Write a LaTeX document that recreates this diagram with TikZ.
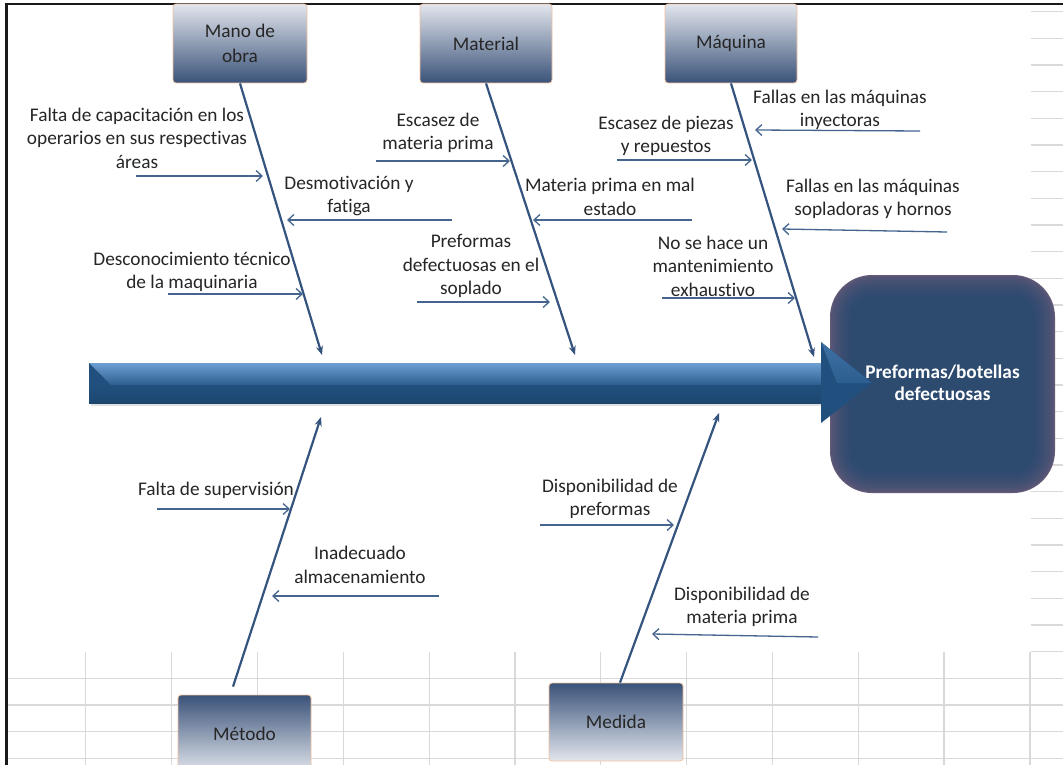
\documentclass[tikz,border=0pt]{standalone}
\usepackage{fontspec}
\setmainfont{Carlito}[Ligatures=NoCommon]
\usetikzlibrary{arrows.meta}
\definecolor{gridc}{HTML}{D9D9D9}
\definecolor{spinec}{HTML}{34547F}
\definecolor{causec}{HTML}{45658F}
\definecolor{txtc}{HTML}{262626}
\definecolor{boxlight}{HTML}{E2E6ED}
\definecolor{boxmid}{HTML}{A3AFC1}
\definecolor{boxdark}{HTML}{3A5279}
\definecolor{boxedge}{HTML}{F6C3A0}
\definecolor{effnavy}{HTML}{2D4A6F}
\definecolor{effglow}{HTML}{665A78}
\definecolor{arrtop}{HTML}{6E9FD3}
\definecolor{arrmid}{HTML}{2C5E90}
\definecolor{arrlow}{HTML}{21507E}
\definecolor{arrbot}{HTML}{1C466F}
\definecolor{headlit}{HTML}{3F71A4}

\begin{document}
\begin{tikzpicture}[x=1pt,y=-1pt,
  gridline/.style={draw=gridc, line width=1.3pt},
  txt/.style={font=\fontsize{19.3}{23.5}\selectfont, text=txtc, align=center, inner sep=0pt},
  efftxt/.style={font=\fontsize{19.3}{22}\selectfont\bfseries, text=white, align=center, inner sep=0pt},
  catbox/.style={draw=boxedge, line width=0.8pt, rounded corners=3pt, align=center,
    font=\fontsize{19.3}{25}\selectfont, text=txtc, inner sep=0pt},
  topcat/.style={catbox, top color=boxlight, middle color=boxmid, bottom color=boxdark},
  botcat/.style={catbox, top color=boxdark, middle color=boxmid, bottom color=boxlight},
  spine/.style={draw=spinec, line width=2.2pt, -{Stealth[length=9pt,width=7pt]}},
  causearr/.style={draw=causec, line width=1.3pt, -{Straight Barb[length=6pt,width=11pt]}},
]
\useasboundingbox (0,0) rectangle (1063,765);
\fill[white] (0,0) rectangle (1063,765);

% spreadsheet cells around the drawing area
\foreach \k in {0,...,28} \draw[gridline] (7,11.7+26.67*\k) -- (1063,11.7+26.67*\k);
\foreach \k in {1,...,12} \draw[gridline] (85.83*\k,0) -- (85.83*\k,765);
\fill[white] (0,0) rectangle (1030.5,652);
\fill[white] (0,0) rectangle (6,765);

% frame of the drawing area
\draw[black!90, line width=2.4pt] (6.5,765) -- (6.5,4.2) -- (1063,4.2);

% effect box with soft inner edge
\foreach \i in {0,...,24} {
  \pgfmathsetmacro\p{100*sqrt(\i/24)}
  \pgfmathsetmacro\r{42-0.9*\i}
  \fill[effnavy!\p!effglow, rounded corners=\r pt]
    (830+0.9*\i, 275+0.9*\i) rectangle (1055-0.9*\i, 493-0.9*\i);
}
\node[efftxt] (effect) at (942.5,383) {Preformas/botellas\\defectuosas};

% main arrow
\fill[black!12] (91,366) rectangle (824,405.5);
\shade[top color=arrtop, bottom color=arrmid] (89,363) rectangle (822,385);
\shade[top color=arrlow, bottom color=arrbot] (89,385) rectangle (822,403);
\fill[arrlow] (89,363) -- (111,385) -- (89,385) -- cycle;
\fill[arrlow] (821,342) -- (872,383) -- (821,423) -- cycle;
\shade[top color=headlit, bottom color=arrmid] (821,342) -- (872,383) -- (837,383) -- cycle;

% category boxes
\node[topcat, minimum width=134pt, minimum height=79pt] (mano) at (240,43.5) {Mano de\\obra};
\node[topcat, minimum width=132pt, minimum height=79pt] (material) at (486,43.5) {Material};
\node[topcat, minimum width=132pt, minimum height=79pt] (maquina) at (731,43.5) {Máquina};
\node[botcat, minimum width=133pt, minimum height=78pt] (metodo) at (244.5,734) {Método};
\node[botcat, minimum width=134pt, minimum height=78pt] (medida) at (616,722) {Medida};

% spine tips on the main arrow
\coordinate (manotip) at (322,355);
\coordinate (materialtip) at (575,355);
\coordinate (maquinatip) at (814,357);
\coordinate (metodotip) at (321,417);
\coordinate (medidatip) at (719,413);

\draw[spine] (mano.south) -- (manotip);
\draw[spine] (material.south) -- (materialtip);
\draw[spine] (maquina.south) -- (maquinatip);
\draw[spine] ([xshift=-11.5pt,yshift=8pt]metodo.north) -- (metodotip);
\draw[spine] ([xshift=4pt]medida.north) -- (medidatip);

% causes: Mano de obra
\node[txt] (t1) at (137,138) {Falta de capacitación en los\\operarios en sus respectivas\\áreas};
\coordinate (a1s) at (136,176); \coordinate (a1e) at (263,176);
\draw[causearr] (a1s) -- (a1e);
\node[txt] (t2) at (349,196) {Desmotivación y\\fatiga};
\coordinate (a2s) at (452,220); \coordinate (a2e) at (287,220);
\draw[causearr] (a2s) -- (a2e);
\node[txt] (t3) at (192,272) {Desconocimiento técnico\\de la maquinaria};
\coordinate (a3s) at (168,294); \coordinate (a3e) at (303,294);
\draw[causearr] (a3s) -- (a3e);

% causes: Material
\node[txt] (t4) at (438,133) {Escasez de\\materia prima};
\coordinate (a4s) at (376,161); \coordinate (a4e) at (510,161);
\draw[causearr] (a4s) -- (a4e);
\node[txt] (t5) at (610,197) {Materia prima en mal\\estado};
\coordinate (a5s) at (692,220); \coordinate (a5e) at (533,220);
\draw[causearr] (a5s) -- (a5e);
\node[txt] (t6) at (471,266) {Preformas\\defectuosas en el\\soplado};
\coordinate (a6s) at (417,302); \coordinate (a6e) at (550,302);
\draw[causearr] (a6s) -- (a6e);

% causes: Máquina
\node[txt] (t7) at (666,136) {Escasez de piezas\\y repuestos};
\coordinate (a7s) at (617,160); \coordinate (a7e) at (752,160);
\draw[causearr] (a7s) -- (a7e);
\node[txt] (t8) at (713,266) {No se hace un\\mantenimiento\\exhaustivo};
\coordinate (a8s) at (662,298); \coordinate (a8e) at (795,298);
\draw[causearr] (a8s) -- (a8e);
\node[txt] (t9) at (840,110) {Fallas en las máquinas\\inyectoras};
\coordinate (a9s) at (920,131); \coordinate (a9e) at (755,130);
\draw[causearr] (a9s) -- (a9e);
\node[txt] (t10) at (873,199) {Fallas en las máquinas\\sopladoras y hornos};
\coordinate (a10s) at (947,232); \coordinate (a10e) at (782,229);
\draw[causearr] (a10s) -- (a10e);

% causes: Método
\node[txt] (t11) at (216,490) {Falta de supervisión};
\coordinate (a11s) at (157,509); \coordinate (a11e) at (290,509);
\draw[causearr] (a11s) -- (a11e);
\node[txt] (t12) at (360,565) {Inadecuado\\almacenamiento};
\coordinate (a12s) at (439,596); \coordinate (a12e) at (272,596);
\draw[causearr] (a12s) -- (a12e);

% causes: Medida
\node[txt] (t13) at (610,499) {Disponibilidad de\\preformas};
\coordinate (a13s) at (540,525); \coordinate (a13e) at (674,525);
\draw[causearr] (a13s) -- (a13e);
\node[txt] (t14) at (742,607) {Disponibilidad de\\materia prima};
\coordinate (a14s) at (818,637); \coordinate (a14e) at (652,634);
\draw[causearr] (a14s) -- (a14e);
\end{tikzpicture}
\end{document}
